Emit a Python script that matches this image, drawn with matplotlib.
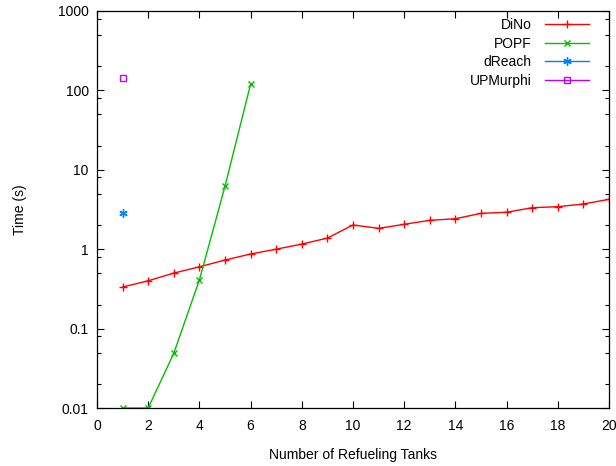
import matplotlib
matplotlib.use("Agg")
import matplotlib.pyplot as plt
from matplotlib.ticker import LogLocator, NullFormatter

plt.rcParams["font.family"] = ["Liberation Sans", "DejaVu Sans"]

dino_x = list(range(1, 21))
dino_y = [0.334, 0.40, 0.50, 0.60, 0.73, 0.87, 1.0, 1.16, 1.38, 2.02,
          1.83, 2.06, 2.31, 2.42, 2.83, 2.92, 3.33, 3.43, 3.71, 4.25]
popf_x = [1, 2, 3, 4, 5, 6]
popf_y = [0.01, 0.01, 0.049, 0.41, 6.2, 120]
dreach_x = [1]
dreach_y = [2.86]
upmurphi_x = [1]
upmurphi_y = [143]

y_ticks = [0.01, 0.1, 1, 10, 100, 1000]
y_labels = ["0.01", "0.1", "1", "10", "100", "1000"]
x_ticks = list(range(0, 21, 2))

fig = plt.figure(figsize=(6.16, 4.66), dpi=100)
ax = fig.add_axes([97 / 616, 1 - 408 / 466, 512 / 616, 397 / 466])

lw = 1.0
ax.plot(dino_x, dino_y, color="#ff0000", marker="+", markersize=6, mew=1.0, lw=lw,
        label="DiNo")
ax.plot(popf_x, popf_y, color="#00c000", marker="x", markersize=4.5, mew=1.0, lw=lw,
        label="POPF")
ax.plot(dreach_x, dreach_y, color="#0080ff", marker=(6, 2, 0), markersize=6, mew=1.0,
        lw=lw, label="dReach")
ax.plot(upmurphi_x, upmurphi_y, color="#c000ff", marker="s", markersize=4.5, mew=1.0,
        lw=lw, markerfacecolor="none", label="UPMurphi")

ax.set_yscale("log")
ax.set_xlim(0, 20)
ax.set_ylim(0.01, 1000)
ax.set_yticks(y_ticks)
ax.set_yticklabels(y_labels)
ax.yaxis.set_minor_locator(LogLocator(base=10, subs=[2, 5, 8]))
ax.yaxis.set_minor_formatter(NullFormatter())
ax.set_xticks(x_ticks)

ax.tick_params(which="both", direction="in", top=True, right=True, labelsize=10, width=0.8)
ax.tick_params(which="major", length=5)
ax.tick_params(axis="x", which="major", pad=8)
ax.tick_params(axis="y", which="major", pad=6)
ax.tick_params(which="minor", length=3)
for s in ax.spines.values():
    s.set_linewidth(0.9)

ax.set_xlabel("Number of Refueling Tanks", fontsize=10, labelpad=11)
ax.set_ylabel("Time (s)", fontsize=10, labelpad=22)

ax.legend(loc="upper right", bbox_to_anchor=(1.0 - 13 / 512, 1.0), frameon=False,
          markerfirst=False, fontsize=10, handlelength=3.2, borderaxespad=0.0,
          borderpad=0.5, labelspacing=0.33, handletextpad=0.95)

fig.savefig("out.png", dpi=100)
